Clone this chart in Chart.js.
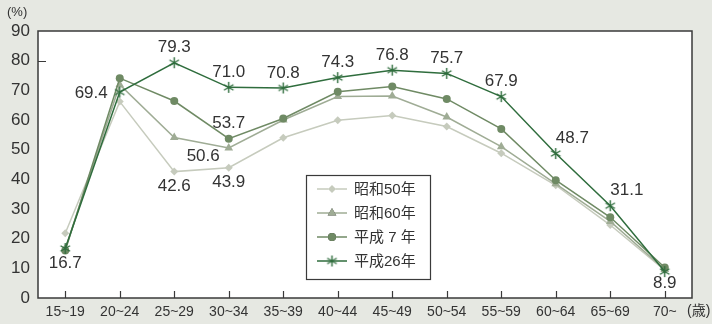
<!DOCTYPE html>
<html>
<head>
<meta charset="utf-8">
<script src="https://cdn.jsdelivr.net/npm/chart.js@4/dist/chart.umd.min.js"></script>
<style>
  html, body { margin: 0; padding: 0; background: #e6e8e2; }
  canvas { display: block; }
</style>
</head>
<body>
<canvas id="chart" width="712" height="324"></canvas>
<script>
// 女性の年齢階級別労働力率
const ageGroups = ['15~19', '20~24', '25~29', '30~34', '35~39', '40~44', '45~49', '50~54', '55~59', '60~64', '65~69', '70~'];
const showa50  = [21.8, 66.2, 42.6, 43.9, 54.0, 59.9, 61.5, 57.8, 48.8, 38.0, 24.6, 9.4];
const showa60  = [16.6, 71.9, 54.1, 50.6, 60.0, 67.9, 68.1, 61.0, 51.0, 38.5, 25.8, 9.6];
const heisei7  = [16.0, 74.1, 66.4, 53.7, 60.5, 69.5, 71.3, 67.1, 57.0, 39.7, 27.2, 10.3];
const heisei26 = [16.7, 69.4, 79.3, 71.0, 70.8, 74.3, 76.8, 75.7, 67.9, 48.7, 31.1, 8.9];
const seriesNames = ['昭和50年', '昭和60年', '平成 7 年', '平成26年'];
const yTickValues = [0, 10, 20, 30, 40, 50, 60, 70, 80, 90];

// Value labels: [series, category]
const labelledPoints = [
  [3, 0], [3, 1], [3, 2], [3, 3], [3, 4], [3, 5], [3, 6], [3, 7], [3, 8], [3, 9], [3, 10], [3, 11],
  [0, 2], [0, 3], [1, 3], [2, 3]
];

const COLORS = ['#c6cbbd', '#9fac95', '#6f8a64', '#2f6d3d'];
const STYLES = ['rectRot', 'triangle', 'circle', 'star'];
const TEXT = '#333333';
const FONT = '"Liberation Sans", "Noto Sans CJK JP", Arial, sans-serif';

// label placement per point: dx, dy, alignment
function placement(ds, i) {
  if (ds === 3) {
    if (i === 0) return { dx: 0, dy: 15, align: 'center' };
    if (i === 1) return { dx: -12, dy: 1, align: 'right' };
    if (i === 9 || i === 10) return { dx: 0, dy: -15, align: 'left' };
    if (i === 11) return { dx: 0, dy: 12, align: 'center' };
    return { dx: 0, dy: -15, align: 'center' };
  }
  if (ds === 0) return { dx: 0, dy: 15, align: 'center' };
  if (ds === 1) return { dx: -9, dy: 8, align: 'right' };
  return { dx: 0, dy: -15, align: 'center' };
}

// asterisk marker for 平成26年
function makeAsterisk(color, size) {
  const c = document.createElement('canvas');
  c.width = size; c.height = size;
  const g = c.getContext('2d');
  const m = size / 2, r = size / 2 - 1;
  g.strokeStyle = color; g.lineWidth = 1.4;
  g.beginPath();
  g.moveTo(m, m - r); g.lineTo(m, m + r);
  const dx = r * Math.cos(Math.PI / 6), dy = r * Math.sin(Math.PI / 6);
  g.moveTo(m - dx, m - dy); g.lineTo(m + dx, m + dy);
  g.moveTo(m - dx, m + dy); g.lineTo(m + dx, m - dy);
  g.stroke();
  return c;
}
const asterisk = makeAsterisk(COLORS[3], 13);

const seriesData = [showa50, showa60, heisei7, heisei26];
const pointSizes = [4, 5, 4, 6];

const datasets = seriesData.map((d, k) => ({
  label: seriesNames[k],
  data: d,
  borderColor: COLORS[k],
  backgroundColor: COLORS[k],
  borderWidth: 1.5,
  pointStyle: k === 3 ? asterisk : STYLES[k],
  pointRadius: pointSizes[k],
  pointBorderWidth: 0,
  pointBackgroundColor: COLORS[k],
  tension: 0,
  order: 3 - k,
  clip: false
}));

const frame = {
  id: 'frame',
  beforeDraw(chart) {
    const { ctx, chartArea: a } = chart;
    ctx.save();
    ctx.fillStyle = '#e6e8e2';
    ctx.fillRect(0, 0, chart.width, chart.height);
    ctx.fillStyle = '#ffffff';
    ctx.fillRect(a.left, a.top, a.right - a.left, a.bottom - a.top);
    ctx.restore();
  },
  beforeDatasetsDraw(chart) {
    const { ctx, chartArea: a, scales } = chart;
    ctx.save();
    ctx.strokeStyle = '#3a3a3a';
    ctx.lineWidth = 1.5;
    ctx.strokeRect(a.left, a.top, a.right - a.left, a.bottom - a.top);
    // inward tick marks on the category axis
    ctx.lineWidth = 1.2;
    ctx.beginPath();
    scales.x.ticks.forEach((t, i) => {
      const px = Math.round(scales.x.getPixelForTick(i)) + 0.5;
      ctx.moveTo(px, a.bottom);
      ctx.lineTo(px, a.bottom - 7);
    });
    const y80 = Math.round(scales.y.getPixelForValue(80)) + 0.5;
    ctx.moveTo(a.left, y80);
    ctx.lineTo(a.left + 8, y80);
    ctx.stroke();
    ctx.restore();
  },
  afterDraw(chart) {
    const { ctx } = chart;
    ctx.save();
    ctx.fillStyle = TEXT;
    // value labels
    ctx.font = '17px ' + FONT;
    ctx.textBaseline = 'middle';
    labelledPoints.forEach(([ds, i]) => {
      const el = chart.getDatasetMeta(ds).data[i];
      const p = placement(ds, i);
      ctx.textAlign = p.align;
      ctx.fillText(seriesData[ds][i].toFixed(1), el.x + p.dx, el.y + p.dy);
    });
    // unit captions
    ctx.font = '13px ' + FONT;
    ctx.textAlign = 'left';
    ctx.fillText('(%)', 7, 12);
    ctx.font = '14px ' + FONT;
    ctx.fillText('(歳)', 687, 311);
    // legend
    const lx = 306, ly = 175, lw = 124, lh = 104;
    ctx.fillStyle = '#ffffff';
    ctx.fillRect(lx, ly, lw, lh);
    ctx.strokeStyle = '#3a3a3a';
    ctx.lineWidth = 1.2;
    ctx.strokeRect(lx + 0.5, ly + 0.5, lw, lh);
    ctx.font = '15px ' + FONT;
    ctx.textAlign = 'left';
    seriesNames.forEach((name, k) => {
      const cy = 189 + k * 24;
      ctx.strokeStyle = COLORS[k];
      ctx.lineWidth = 1.5;
      ctx.beginPath();
      ctx.moveTo(317, cy); ctx.lineTo(347, cy);
      ctx.stroke();
      if (k === 3) {
        ctx.drawImage(asterisk, 332 - asterisk.width / 2, cy - asterisk.height / 2);
      } else {
        Chart.helpers.drawPoint(ctx, {
          pointStyle: STYLES[k], radius: pointSizes[k], rotation: 0, borderWidth: 0
        }, 332, cy);
        ctx.fillStyle = COLORS[k];
        ctx.fill();
      }
      ctx.fillStyle = TEXT;
      ctx.fillText(name, 354, cy + 1);
    });
    ctx.restore();
  }
};

new Chart(document.getElementById('chart'), {
  type: 'line',
  data: { labels: ageGroups, datasets },
  options: {
    responsive: false,
    animation: false,
    devicePixelRatio: 1,
    layout: { padding: { top: 31, right: 20, left: 0, bottom: 0 } },
    plugins: { legend: { display: false }, tooltip: { enabled: false } },
    scales: {
      x: {
        offset: true,
        grid: { display: false, drawTicks: false },
        border: { display: false },
        ticks: { color: TEXT, font: { family: FONT, size: 14 }, padding: 6, autoSkip: false, maxRotation: 0 },
        afterFit(s) { s.height = 26; }
      },
      y: {
        min: 0, max: 90,
        afterBuildTicks(s) { s.ticks = yTickValues.map(v => ({ value: v })); },
        grid: { display: false, drawTicks: false },
        border: { display: false },
        ticks: { color: TEXT, font: { family: FONT, size: 17 }, padding: 8 },
        afterFit(s) { s.width = 38; }
      }
    }
  },
  plugins: [frame]
});
</script>
</body>
</html>
